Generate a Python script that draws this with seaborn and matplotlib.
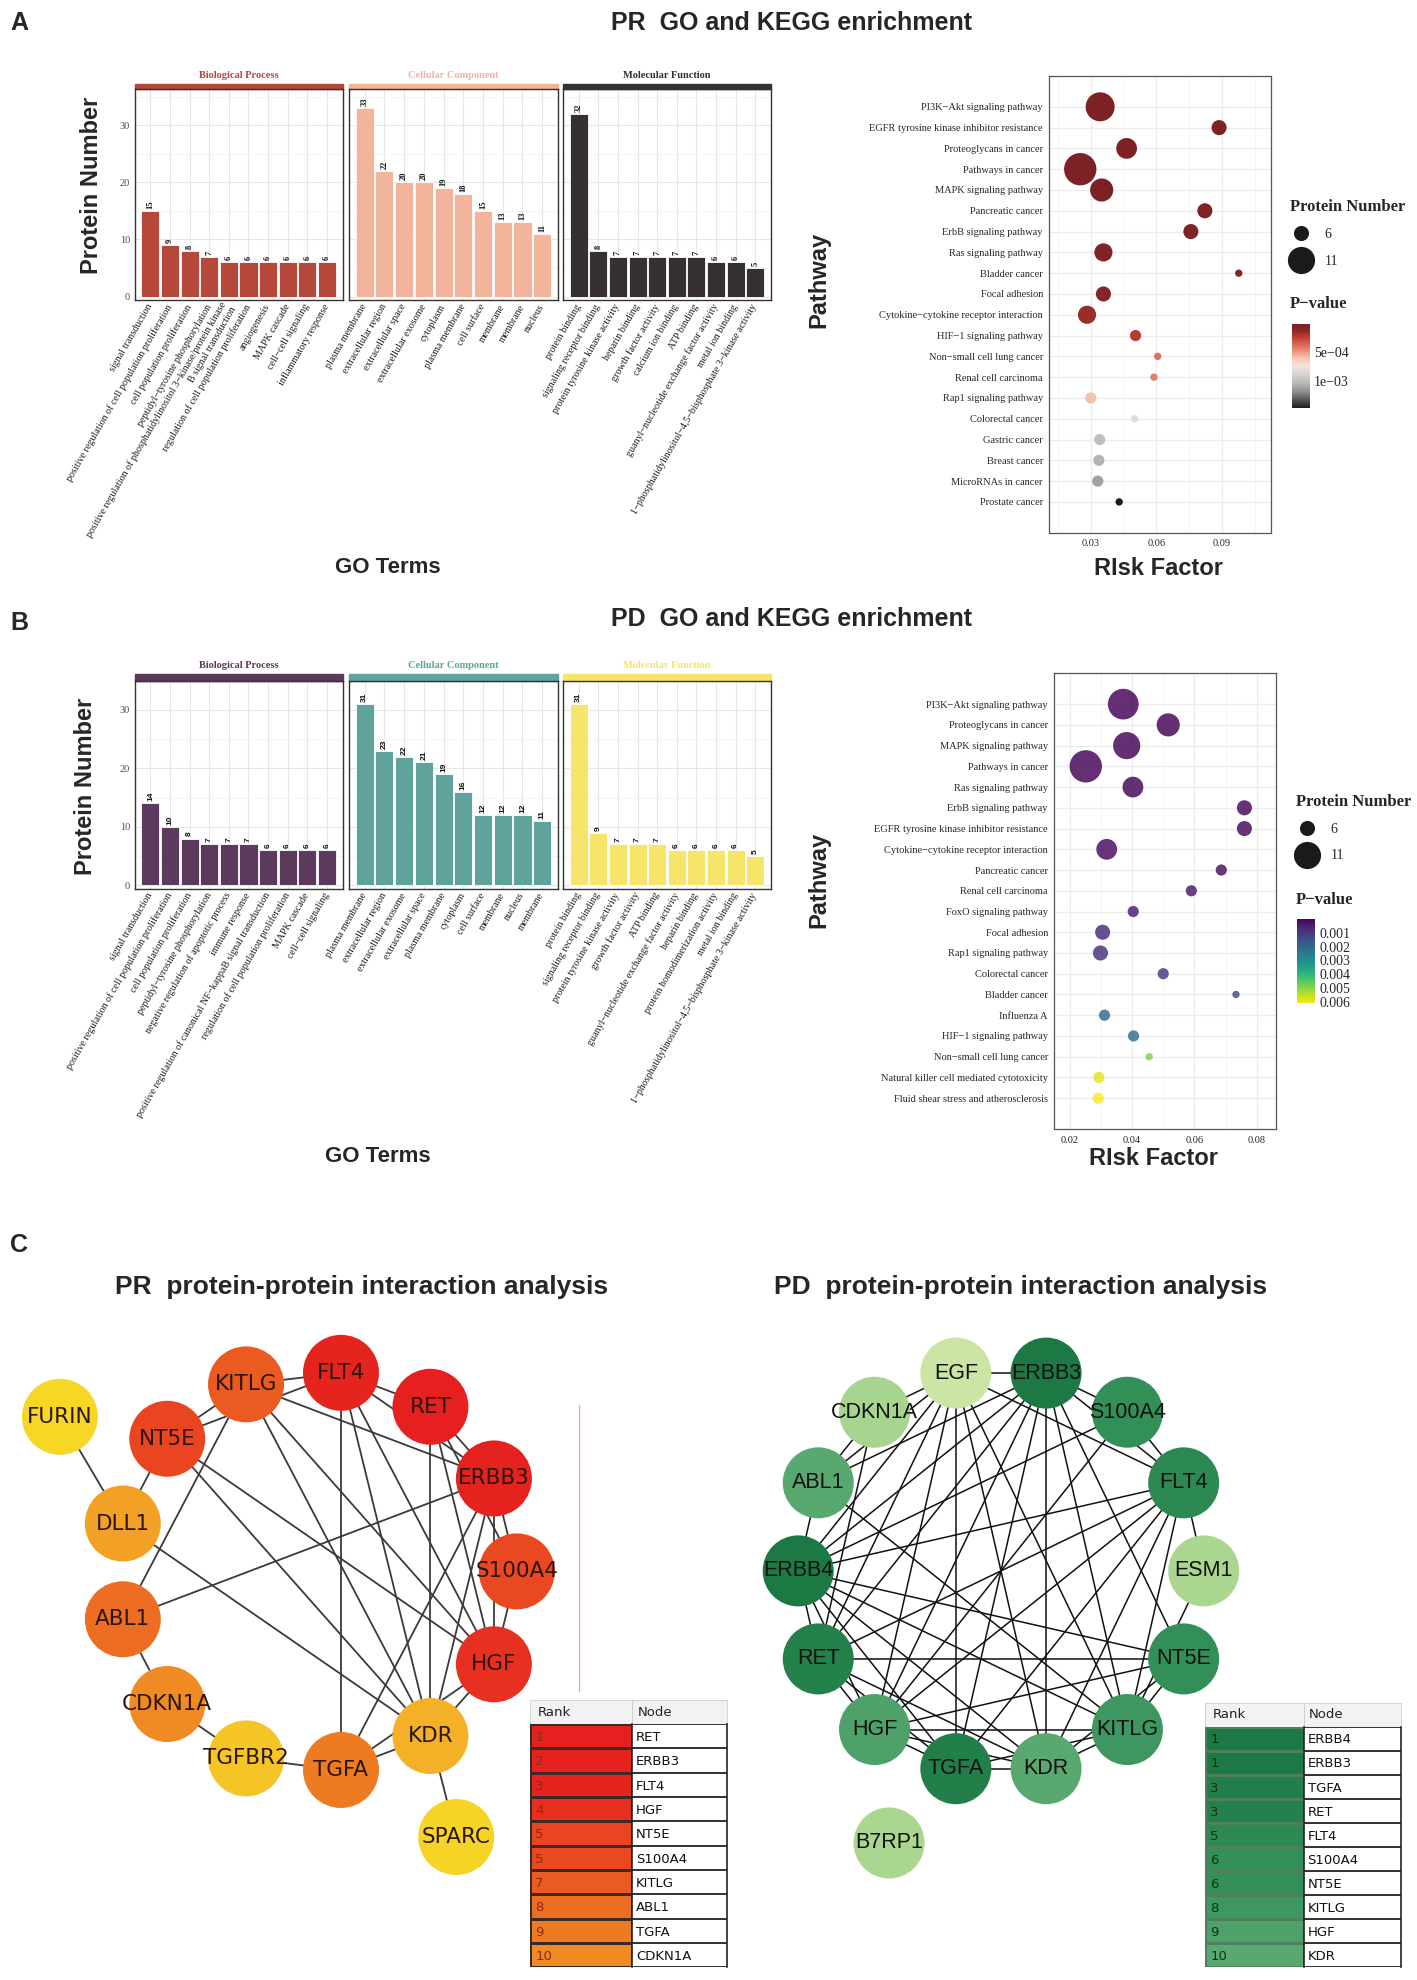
import numpy as np
import pandas as pd
import matplotlib
matplotlib.use("Agg")
import matplotlib.pyplot as plt
import seaborn as sns
from matplotlib.colors import LinearSegmentedColormap, Normalize
from matplotlib.cm import ScalarMappable
from matplotlib.lines import Line2D
from matplotlib.patches import Rectangle

sns.set_style("white")
SERIF = ["Liberation Serif", "DejaVu Serif"]
SANS = ["Liberation Sans", "DejaVu Sans"]
plt.rcParams["font.family"] = SERIF
plt.rcParams["axes.unicode_minus"] = True

# ---------------- GO data ----------------
pr_bp_terms = ["signal transduction", "positive regulation of cell population proliferation",
               "cell population proliferation", "peptidyl−tyrosine phosphorylation",
               "positive regulation of phosphatidylinositol 3−kinase/protein kinase\nB signal transduction",
               "regulation of cell population proliferation", "angiogenesis", "MAPK cascade",
               "cell−cell signaling", "inflammatory response"]
pr_bp_counts = [15, 9, 8, 7, 6, 6, 6, 6, 6, 6]
pr_cc_terms = ["plasma membrane", "extracellular region", "extracellular space", "extracellular exosome",
               "cytoplasm", "plasma membrane", "cell surface", "membrane", "membrane", "nucleus"]
pr_cc_counts = [33, 22, 20, 20, 19, 18, 15, 13, 13, 11]
pr_mf_terms = ["protein binding", "signaling receptor binding", "protein tyrosine kinase activity",
               "heparin binding", "growth factor activity", "calcium ion binding", "ATP binding",
               "guanyl−nucleotide exchange factor activity", "metal ion binding",
               "1−phosphatidylinositol−4,5−bisphosphate 3−kinase activity"]
pr_mf_counts = [32, 8, 7, 7, 7, 7, 7, 6, 6, 5]

pd_bp_terms = ["signal transduction", "positive regulation of cell population proliferation",
               "cell population proliferation", "peptidyl−tyrosine phosphorylation",
               "negative regulation of apoptotic process", "immune response",
               "positive regulation of canonical NF−kappaB signal transduction",
               "regulation of cell population proliferation", "MAPK cascade", "cell−cell signaling"]
pd_bp_counts = [14, 10, 8, 7, 7, 7, 6, 6, 6, 6]
pd_cc_terms = ["plasma membrane", "extracellular region", "extracellular exosome", "extracellular space",
               "plasma membrane", "cytoplasm", "cell surface", "membrane", "nucleus", "membrane"]
pd_cc_counts = [31, 23, 22, 21, 19, 16, 12, 12, 12, 11]
pd_mf_terms = ["protein binding", "signaling receptor binding", "protein tyrosine kinase activity",
               "growth factor activity", "ATP binding", "guanyl−nucleotide exchange factor activity",
               "heparin binding", "protein homodimerization activity", "metal ion binding",
               "1−phosphatidylinositol−4,5−bisphosphate 3−kinase activity"]
pd_mf_counts = [31, 9, 7, 7, 7, 6, 6, 6, 6, 5]

# ---------------- KEGG data ----------------
pr_pathways = ["PI3K−Akt signaling pathway", "EGFR tyrosine kinase inhibitor resistance",
               "Proteoglycans in cancer", "Pathways in cancer", "MAPK signaling pathway",
               "Pancreatic cancer", "ErbB signaling pathway", "Ras signaling pathway", "Bladder cancer",
               "Focal adhesion", "Cytokine−cytokine receptor interaction", "HIF−1 signaling pathway",
               "Non−small cell lung cancer", "Renal cell carcinoma", "Rap1 signaling pathway",
               "Colorectal cancer", "Gastric cancer", "Breast cancer", "MicroRNAs in cancer",
               "Prostate cancer"]
pr_risk = [0.0343, 0.0887, 0.0464, 0.0252, 0.0350, 0.0822, 0.0758, 0.0358, 0.0977, 0.0358,
           0.0283, 0.0505, 0.0606, 0.0589, 0.0300, 0.0501, 0.0341, 0.0337, 0.0332, 0.0430]
pr_count = [12, 6, 8, 14, 9, 6, 6, 7, 4, 6, 7, 5, 4, 4, 5, 4, 5, 5, 5, 4]
pr_pval = [1.0e-5, 3.0e-5, 2.0e-5, 1.0e-5, 2.0e-5, 4.0e-5, 5.0e-5, 6.0e-5, 8.0e-5, 9.0e-5,
           1.6e-4, 2.3e-4, 4.0e-4, 4.3e-4, 6.0e-4, 8.2e-4, 1.0e-3, 1.05e-3, 1.12e-3, 1.48e-3]

pd_pathways = ["PI3K−Akt signaling pathway", "Proteoglycans in cancer", "MAPK signaling pathway",
               "Pathways in cancer", "Ras signaling pathway", "ErbB signaling pathway",
               "EGFR tyrosine kinase inhibitor resistance", "Cytokine−cytokine receptor interaction",
               "Pancreatic cancer", "Renal cell carcinoma", "FoxO signaling pathway", "Focal adhesion",
               "Rap1 signaling pathway", "Colorectal cancer", "Bladder cancer", "Influenza A",
               "HIF−1 signaling pathway", "Non−small cell lung cancer",
               "Natural killer cell mediated cytotoxicity", "Fluid shear stress and atherosclerosis"]
pd_risk = [0.0372, 0.0516, 0.0383, 0.0252, 0.0403, 0.0760, 0.0760, 0.0319, 0.0686, 0.0590,
           0.0404, 0.0306, 0.0299, 0.0500, 0.0733, 0.0312, 0.0405, 0.0455, 0.0294, 0.0292]
pd_count = [13, 9, 11, 14, 8, 6, 6, 8, 5, 5, 5, 6, 6, 5, 4, 5, 5, 4, 5, 5]
pd_pval = [1.0e-5, 2.0e-5, 3.0e-5, 1.0e-5, 5.0e-5, 1.0e-4, 1.2e-4, 1.5e-4, 2.0e-4, 4.0e-4,
           5.0e-4, 7.0e-4, 8.0e-4, 9.0e-4, 1.3e-3, 2.0e-3, 2.1e-3, 4.9e-3, 5.8e-3, 6.07e-3]

# ---------------- PPI data ----------------
pr_ring = ["S100A4", "ERBB3", "RET", "FLT4", "KITLG", "NT5E", "DLL1", "ABL1", "CDKN1A",
           "TGFBR2", "TGFA", "KDR", "HGF"]
pr_outer = ["FURIN", "SPARC"]
pr_outer_slot = [5.38, -2.25]
pr_outer_rad = [1.5, 1.5]
pr_nodes = ["RET", "ERBB3", "FLT4", "HGF", "NT5E", "S100A4", "KITLG", "ABL1", "TGFA", "CDKN1A",
            "DLL1", "KDR", "TGFBR2", "FURIN", "SPARC"]
pr_node_level = [1.0, 0.99, 0.98, 0.92, 0.84, 0.83, 0.76, 0.68, 0.62, 0.55, 0.42, 0.33, 0.18, 0.04, 0.06]
pr_edges = [("FURIN", "DLL1"), ("DLL1", "NT5E"), ("NT5E", "KITLG"), ("NT5E", "FLT4"),
            ("KITLG", "ABL1"), ("KITLG", "FLT4"), ("KITLG", "ERBB3"), ("KITLG", "KDR"),
            ("KITLG", "HGF"), ("FLT4", "RET"), ("FLT4", "ERBB3"), ("FLT4", "TGFA"),
            ("FLT4", "KDR"), ("FLT4", "HGF"), ("RET", "ERBB3"), ("RET", "S100A4"),
            ("RET", "KDR"), ("RET", "HGF"), ("ERBB3", "ABL1"), ("ERBB3", "S100A4"),
            ("ERBB3", "HGF"), ("ERBB3", "KDR"), ("ERBB3", "TGFA"), ("NT5E", "KDR"),
            ("NT5E", "HGF"), ("DLL1", "KDR"), ("S100A4", "HGF"), ("HGF", "KDR"),
            ("HGF", "TGFA"), ("KDR", "TGFA"), ("TGFA", "TGFBR2"), ("TGFBR2", "CDKN1A"),
            ("CDKN1A", "ABL1"), ("KDR", "SPARC")]
pr_rank = [1, 2, 3, 4, 5, 5, 7, 8, 9, 10]
pr_top = ["RET", "ERBB3", "FLT4", "HGF", "NT5E", "S100A4", "KITLG", "ABL1", "TGFA", "CDKN1A"]

pd_ring = ["ESM1", "FLT4", "S100A4", "ERBB3", "EGF", "CDKN1A", "ABL1", "ERBB4", "RET", "HGF",
           "TGFA", "KDR", "KITLG", "NT5E"]
pd_outer = ["B7RP1"]
pd_outer_slot = [-4.37]
pd_outer_rad = [1.45]
pd_nodes = ["ERBB4", "ERBB3", "TGFA", "RET", "FLT4", "S100A4", "NT5E", "KITLG", "HGF", "KDR",
            "ABL1", "CDKN1A", "ESM1", "B7RP1", "EGF"]
pd_node_level = [1.0, 1.0, 0.95, 0.93, 0.87, 0.82, 0.82, 0.74, 0.64, 0.57, 0.57, 0.15, 0.14, 0.14, 0.02]
pd_edges = [("EGF", "ERBB3"), ("EGF", "CDKN1A"), ("EGF", "ABL1"), ("EGF", "ERBB4"), ("EGF", "RET"),
            ("EGF", "HGF"), ("EGF", "TGFA"), ("EGF", "KDR"), ("EGF", "KITLG"), ("EGF", "FLT4"),
            ("ERBB3", "S100A4"), ("ERBB3", "FLT4"), ("ERBB3", "ABL1"), ("ERBB3", "ERBB4"),
            ("ERBB3", "RET"), ("ERBB3", "HGF"), ("ERBB3", "TGFA"), ("ERBB3", "KDR"),
            ("ERBB3", "KITLG"), ("ERBB3", "NT5E"), ("S100A4", "ERBB4"), ("S100A4", "HGF"),
            ("S100A4", "FLT4"), ("FLT4", "ERBB4"), ("FLT4", "ESM1"), ("FLT4", "RET"),
            ("FLT4", "HGF"), ("FLT4", "TGFA"), ("FLT4", "KDR"), ("FLT4", "KITLG"),
            ("ESM1", "KITLG"), ("ABL1", "ERBB4"), ("ABL1", "CDKN1A"), ("ABL1", "KITLG"),
            ("ERBB4", "RET"), ("ERBB4", "HGF"), ("ERBB4", "TGFA"), ("ERBB4", "KDR"),
            ("ERBB4", "KITLG"), ("ERBB4", "NT5E"), ("RET", "HGF"), ("RET", "TGFA"),
            ("RET", "KDR"), ("RET", "NT5E"), ("HGF", "KITLG"), ("HGF", "NT5E"),
            ("HGF", "TGFA"), ("HGF", "KDR"), ("TGFA", "KDR"), ("TGFA", "KITLG"),
            ("KDR", "KITLG"), ("KDR", "NT5E"), ("KITLG", "NT5E"), ("CDKN1A", "RET")]
pd_rank = [1, 1, 3, 3, 5, 6, 6, 8, 9, 10]
pd_top = ["ERBB4", "ERBB3", "TGFA", "RET", "FLT4", "S100A4", "NT5E", "KITLG", "HGF", "KDR"]

# ---------------- colours ----------------
pr_go_colors = ["#B5483B", "#F2B49B", "#363030"]
pd_go_colors = ["#5B3A5D", "#5FA39C", "#F6E46B"]
pr_cmap = LinearSegmentedColormap.from_list("pr", [(0, "#F7DC26"), (0.35, "#F4AE28"), (0.55, "#F08A23"),
                                                   (0.75, "#EB5E21"), (0.9, "#E8351F"), (1, "#E5201E")])
pd_cmap = LinearSegmentedColormap.from_list("pd", [(0, "#D2E8A8"), (0.15, "#A7D48E"), (0.55, "#5BAA72"),
                                                   (0.8, "#35915A"), (1, "#1D7944")])
pr_pcmap = LinearSegmentedColormap.from_list("prp", [(0, "#7C2225"), (0.08, "#862829"), (0.15, "#C0392B"),
                                                     (0.28, "#E07A66"), (0.41, "#F8C8B0"), (0.5, "#F2E4DF"),
                                                     (0.6, "#D8D3D2"), (0.7, "#B8B8B8"), (0.8, "#909090"),
                                                     (1, "#1C1C1C")])

# layout grid (reference measured in a 1125 x 1571 frame)
W, H = 1125.0, 1571.0


def rect(x0, y0, x1, y1):
    return [x0 / W, 1 - y1 / H, (x1 - x0) / W, (y1 - y0) / H]


def fxy(x, y):
    return (x / W, 1 - y / H)


fig = plt.figure(figsize=(14.17, 19.8), dpi=100)

FACETS = ["Biological Process", "Cellular Component", "Molecular Function"]
FACET_X = [(107, 272), (277, 443), (447, 612)]


def draw_go(top, bottom, strip_h, text_gap, ylim, colors, terms, counts, value_font):
    for k in range(3):
        x0, x1 = FACET_X[k]
        ax = fig.add_axes(rect(x0, top, x1, bottom))
        n = len(counts[k])
        df = pd.DataFrame({"term_id": np.arange(n), "count": counts[k]})
        sns.barplot(data=df, x="term_id", y="count", color=colors[k], saturation=1, width=0.92,
                    edgecolor="white", linewidth=0.6, ax=ax)
        ax.set_xlim(-0.8, n - 0.2)
        ax.set_ylim(*ylim)
        ax.set_axisbelow(True)
        ax.set_yticks([0, 10, 20, 30])
        ax.set_yticks([5, 15, 25, 35], minor=True)
        ax.grid(True, which="major", color="#E6E6E6", lw=0.8)
        ax.grid(True, which="minor", axis="y", color="#F2F2F2", lw=0.6)
        ax.set_xticks(np.arange(n))
        ax.set_xticklabels(terms[k], rotation=60, ha="right", va="center", rotation_mode="anchor",
                           fontsize=7.2, color="#1a1a1a")
        ax.set_xlabel("")
        ax.set_ylabel("")
        ax.tick_params(axis="x", length=2, width=0.6, color="#333333", pad=1.5)
        if k == 0:
            ax.tick_params(axis="y", which="major", labelsize=7.5, labelcolor="#4d4d4d", length=2,
                           width=0.6, color="#333333", pad=1.5)
        else:
            ax.tick_params(axis="y", which="both", labelleft=False, length=0)
        ax.tick_params(axis="y", which="minor", length=0)
        for sp in ax.spines.values():
            sp.set_color("#333333")
            sp.set_linewidth(1.0)
        hgt = bottom - top
        ax.add_patch(Rectangle((0, 1), 1, strip_h / hgt, transform=ax.transAxes,
                               color=colors[k], clip_on=False))
        ax.text(0.5, 1 + text_gap / hgt, FACETS[k], transform=ax.transAxes, ha="center",
                va="center", color=colors[k], fontsize=7.5, fontweight="bold")
        for i, v in enumerate(counts[k]):
            ax.text(i, v + 0.35, str(v), rotation=90, ha="center", va="bottom", fontsize=6,
                    fontweight="bold", family=value_font, color="#111111")


def size_of(c):
    return max(28.0, 53.0 * c - 200.0)


def draw_kegg(box, pathways, risk, counts, pvals, cmap, alpha, xlim, xticks, legend_xy, cbar_box,
              cbar_ticks, cbar_labels, ptitle_xy):
    ax = fig.add_axes(rect(*box))
    df = pd.DataFrame({"Pathway": pathways, "Risk": risk, "Count": counts, "P": pvals})
    pnorm = (min(pvals), max(pvals))
    sns.scatterplot(data=df, x="Risk", y="Pathway", size="Count",
                    sizes={c: size_of(c) for c in set(counts)}, hue="P", hue_norm=pnorm,
                    palette=cmap, legend=False, linewidth=0, alpha=alpha, ax=ax, zorder=3)
    ax.set_ylim(len(pathways) - 1 + 1.5, -1.5)
    ax.set_xlim(*xlim)
    ax.set_xticks(xticks)
    ax.set_xticklabels([f"{t:.2f}" for t in xticks])
    step = xticks[1] - xticks[0]
    minor = [m for m in np.arange(xticks[0] - step / 2, xlim[1], step) if xlim[0] < m < xlim[1]]
    ax.set_xticks(minor, minor=True)
    ax.set_axisbelow(True)
    ax.grid(True, which="major", color="#EBEBEB", lw=0.9)
    ax.grid(True, which="minor", axis="x", color="#F5F5F5", lw=0.6)
    ax.set_xlabel("")
    ax.set_ylabel("")
    ax.tick_params(axis="both", which="major", labelsize=7.5, length=2.5, width=0.6,
                   color="#333333", pad=2)
    ax.tick_params(axis="x", which="minor", length=0)
    for sp in ax.spines.values():
        sp.set_color("#555555")
        sp.set_linewidth(0.9)
    # size legend
    handles = [Line2D([], [], marker="o", ls="", color="#1a1a1a", markeredgewidth=0,
                      markersize=np.sqrt(size_of(c))) for c in (6, 11)]
    fig.legend(handles, ["6", "11"], loc="upper left", bbox_to_anchor=fxy(*legend_xy),
               frameon=False, title="Protein Number",
               title_fontproperties={"weight": "bold", "size": 12, "family": SERIF},
               prop={"size": 10, "family": SERIF}, labelspacing=0.95, handletextpad=0.9,
               borderpad=0, borderaxespad=0, alignment="left", handlelength=1.6)
    fig.text(*fxy(*ptitle_xy), "P−value", fontsize=12, fontweight="bold", ha="left", va="center")
    cax = fig.add_axes(rect(*cbar_box))
    cb = fig.colorbar(ScalarMappable(norm=Normalize(*pnorm), cmap=cmap), cax=cax)
    cax.invert_yaxis()
    cb.set_ticks(cbar_ticks)
    cb.set_ticklabels(cbar_labels)
    cb.outline.set_visible(False)
    cax.tick_params(labelsize=10, length=3, width=0.8, color="white", direction="in", pad=3)
    return ax


def draw_network(box, center, R, ring, outer, outer_slot, outer_rad, nodes, levels, edges, cmap,
                 node_r, font, fsize, text_color, edge_color, edge_lw):
    x0, y0, x1, y1 = box
    cx, cy = center
    ax = fig.add_axes(rect(x0, y0, x1, y1))
    n = len(ring)
    pos = {}
    for i, name in enumerate(ring):
        a = 2 * np.pi * i / n
        pos[name] = (np.cos(a), np.sin(a))
    for name, slot, rad in zip(outer, outer_slot, outer_rad):
        a = 2 * np.pi * slot / n
        pos[name] = (rad * np.cos(a), rad * np.sin(a))
    for a, b in edges:
        ax.plot([pos[a][0], pos[b][0]], [pos[a][1], pos[b][1]], color=edge_color, lw=edge_lw,
                zorder=1, solid_capstyle="round")
    df = pd.DataFrame({"node": nodes, "x": [pos[m][0] for m in nodes],
                       "y": [pos[m][1] for m in nodes], "level": levels})
    s = (2 * node_r * R * 1.26 * 0.72) ** 2
    sns.scatterplot(data=df, x="x", y="y", hue="level", hue_norm=(0, 1), palette=cmap, s=s,
                    linewidth=0, legend=False, ax=ax, zorder=2)
    for _, r in df.iterrows():
        ax.text(r["x"], r["y"], r["node"], ha="center", va="center", fontsize=fsize,
                family=font, color=text_color, zorder=3)
    ax.set_xlim((x0 - cx) / R, (x1 - cx) / R)
    ax.set_ylim((cy - y1) / R, (cy - y0) / R)
    ax.axis("off")
    return pos


def draw_table(box, split, ranks, names, nodes, levels, cmap, line_color, rank_color, font):
    x0, y0, x1, y1 = box
    lvl = dict(zip(nodes, levels))
    hdr = fig.add_axes(rect(x0, y0, x1, y0 + 19))
    hdr.set_xlim(0, x1 - x0)
    hdr.set_ylim(0, 1)
    hdr.set_facecolor("#F2F2F2")
    hdr.axvline(split - x0, color="#D0D0D0", lw=0.8)
    hdr.text(6, 0.5, "Rank", ha="left", va="center", fontsize=9.5, family=font, color="#222222")
    hdr.text(split - x0 + 4, 0.5, "Node", ha="left", va="center", fontsize=9.5, family=font,
             color="#222222")
    hdr.set_xticks([])
    hdr.set_yticks([])
    for sp in hdr.spines.values():
        sp.set_color("#D0D0D0")
        sp.set_linewidth(0.6)
    rk = fig.add_axes(rect(x0, y0 + 19, split, y1))
    vals = np.array([lvl[m] for m in names]).reshape(-1, 1)
    sns.heatmap(vals, cmap=cmap, vmin=0, vmax=1, cbar=False, xticklabels=False, yticklabels=False,
                linewidths=1.0, linecolor=line_color, ax=rk)
    for i, r in enumerate(ranks):
        rk.text(0.05, i + 0.55, str(r), ha="left", va="center", fontsize=9.5, family=font,
                color=rank_color)
    nd = fig.add_axes(rect(split, y0 + 19, x1, y1))
    nd.set_xlim(0, 1)
    nd.set_ylim(len(names), 0)
    for i, m in enumerate(names):
        nd.text(0.04, i + 0.55, m, ha="left", va="center", fontsize=9.5, family=font,
                color="#111111")
    nd.hlines(np.arange(len(names) + 1), 0, 1, color="#222222", lw=1.3)
    nd.set_xticks([])
    nd.set_yticks([])
    for k, sp in nd.spines.items():
        sp.set_color("#222222" if k in ("left", "right") else "none")
        sp.set_linewidth(1.2)


# ---------------- panel A ----------------
fig.text(*fxy(8, 18), "A", fontsize=18, fontweight="bold", family=SANS, ha="left", va="center")
fig.text(*fxy(628, 18), "PR  GO and KEGG enrichment", fontsize=18, fontweight="bold", family=SANS,
         ha="center", va="center")
draw_go(71, 238, 4.5, 11, (-0.6, 36.3), pr_go_colors, [pr_bp_terms, pr_cc_terms, pr_mf_terms],
        [pr_bp_counts, pr_cc_counts, pr_mf_counts], SERIF)
fig.text(*fxy(73, 147), "Protein Number", rotation=90, fontsize=17, fontweight="bold", family=SANS,
         ha="center", va="center")
fig.text(*fxy(308, 450), "GO Terms", fontsize=16, fontweight="bold", family=SANS, ha="center",
         va="center")
draw_kegg((833, 60, 1009, 423), pr_pathways, pr_risk, pr_count, pr_pval, pr_pcmap, 1.0,
          (0.011, 0.1124), [0.03, 0.06, 0.09], (1024, 158), (1026, 257, 1040, 324),
          [5e-4, 1e-3], ["5e−04", "1e−03"], (1024, 241))
fig.text(*fxy(650, 222), "Pathway", rotation=90, fontsize=17, fontweight="bold", family=SANS,
         ha="center", va="center")
fig.text(*fxy(920, 451), "RIsk Factor", fontsize=17, fontweight="bold", family=SANS, ha="center",
         va="center")

# ---------------- panel B ----------------
fig.text(*fxy(8, 494), "B", fontsize=18, fontweight="bold", family=SANS, ha="left", va="center")
fig.text(*fxy(628, 491), "PD  GO and KEGG enrichment", fontsize=18, fontweight="bold", family=SANS,
         ha="center", va="center")
draw_go(540, 705, 5.5, 12, (-0.55, 33.7), pd_go_colors, [pd_bp_terms, pd_cc_terms, pd_mf_terms],
        [pd_bp_counts, pd_cc_counts, pd_mf_counts], SANS)
fig.text(*fxy(68, 624), "Protein Number", rotation=90, fontsize=17, fontweight="bold", family=SANS,
         ha="center", va="center")
fig.text(*fxy(300, 918), "GO Terms", fontsize=16, fontweight="bold", family=SANS, ha="center",
         va="center")
draw_kegg((837, 534, 1013, 896), pd_pathways, pd_risk, pd_count, pd_pval, "viridis", 0.82,
          (0.0151, 0.0861), [0.02, 0.04, 0.06, 0.08], (1029, 630), (1030, 729, 1044, 796),
          [0.001, 0.002, 0.003, 0.004, 0.005, 0.006],
          ["0.001", "0.002", "0.003", "0.004", "0.005", "0.006"], (1029, 714))
fig.text(*fxy(650, 698), "Pathway", rotation=90, fontsize=17, fontweight="bold", family=SANS,
         ha="center", va="center")
fig.text(*fxy(916, 919), "RIsk Factor", fontsize=17, fontweight="bold", family=SANS, ha="center",
         va="center")

# ---------------- panel C ----------------
fig.text(*fxy(8, 988), "C", fontsize=18, fontweight="bold", family=SANS, ha="left", va="center")
fig.text(*fxy(287, 1021), "PR  protein-protein interaction analysis", fontsize=19,
         fontweight="bold", family=SANS, ha="center", va="center")
fig.text(*fxy(810, 1021), "PD  protein-protein interaction analysis", fontsize=19,
         fontweight="bold", family=SANS, ha="center", va="center")

draw_network((0, 1045, 505, 1500), (251.6, 1246.8), 158.7, pr_ring, pr_outer, pr_outer_slot,
             pr_outer_rad, pr_nodes, pr_node_level, pr_edges, pr_cmap, 0.19, "DejaVu Sans", 15.5,
             "#2b160d", "#3a3a3a", 1.3)
draw_network((585, 1045, 1000, 1500), (794.7, 1246.4), 161.0, pd_ring, pd_outer, pd_outer_slot,
              pd_outer_rad, pd_nodes, pd_node_level, pd_edges, pd_cmap, 0.175, SANS, 15.5,
              "#111111", "#111111", 1.1)

draw_table((421, 1349, 577, 1561), 502, pr_rank, pr_top, pr_nodes, pr_node_level, pr_cmap,
           "#3a2a2a", "#8c2a14", "DejaVu Sans")
draw_table((957, 1351, 1112, 1561), 1035, pd_rank, pd_top, pd_nodes, pd_node_level, pd_cmap,
           "#4f7f5f", "#10301c", "DejaVu Sans")

# thin red guide line visible in the PR network screenshot
fig.add_artist(Line2D([460 / W, 460 / W], [1 - 1115 / H, 1 - 1342 / H], color="#F2A3A3", lw=0.9))

fig.savefig("out.png", dpi=100)
